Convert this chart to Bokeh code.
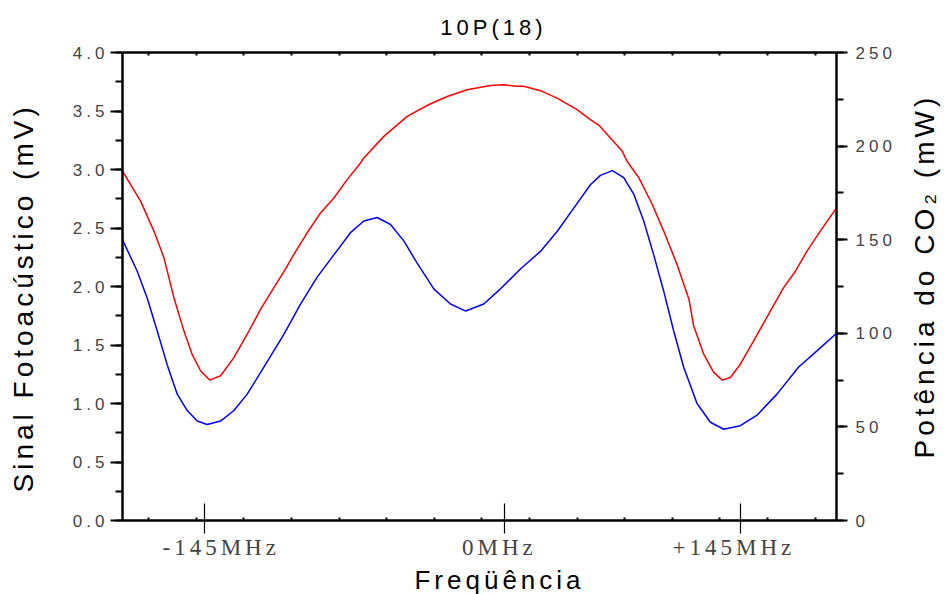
from bokeh.plotting import figure
from bokeh.layouts import row
from bokeh.models import (Range1d, LinearAxis, FixedTicker, SingleIntervalTicker,
                          NumeralTickFormatter, InlineStyleSheet, Title)
from bokeh.embed import file_html
from bokeh.resources import INLINE

# ---------------- data (scan position in arbitrary units) ----------------
power_scan = [0.00, 0.38, 0.66, 0.87, 1.08, 1.29, 1.46, 1.64, 1.83, 2.06, 2.34, 2.62,
              2.90, 3.18, 3.42, 3.60, 3.88, 4.16, 4.44, 4.72, 5.00, 5.07, 5.49, 5.98,
              6.43, 6.82, 7.24, 7.73, 8.01, 8.29, 8.43, 8.78, 9.13, 9.55, 9.83, 10.01,
              10.25, 10.50, 10.60, 10.85, 11.13, 11.37, 11.65, 11.90, 12.00, 12.21,
              12.42, 12.60, 12.77, 12.98, 13.26, 13.61, 13.89, 14.14, 14.38, 14.66, 15.00]
power_mw = [186.6, 170.6, 154.6, 140.4, 119.0, 101.3, 88.9, 80.0, 75.0, 77.3, 87.0, 99.5,
            112.8, 124.4, 134.2, 142.2, 153.7, 164.3, 172.3, 182.1, 191.0, 193.7, 205.2, 215.9,
            222.1, 226.5, 230.1, 232.4, 232.8, 232.0, 232.0, 229.6, 225.6, 219.5, 214.1, 211.1,
            204.3, 197.2, 191.9, 183.0, 168.8, 154.6, 136.8, 118.2, 103.9, 88.9,
            79.1, 75.0, 76.4, 83.5, 95.9, 111.9, 124.4, 133.3, 143.9, 154.6, 167.0]

signal_scan = [0.00, 0.31, 0.52, 0.73, 0.94, 1.15, 1.36, 1.57, 1.78, 2.06, 2.34, 2.62,
               2.97, 3.39, 3.74, 4.09, 4.44, 4.79, 5.07, 5.35, 5.63, 5.91, 6.19, 6.54,
               6.89, 7.21, 7.59, 7.94, 8.36, 8.78, 9.13, 9.48, 9.83, 10.04, 10.29, 10.53,
               10.74, 10.95, 11.16, 11.37, 11.58, 11.79, 12.07, 12.35, 12.63, 12.98,
               13.33, 13.75, 14.20, 14.59, 15.00]
signal_mv = [2.40, 2.13, 1.90, 1.62, 1.33, 1.08, 0.94, 0.85, 0.82, 0.85, 0.94, 1.08,
             1.31, 1.59, 1.85, 2.08, 2.27, 2.46, 2.56, 2.59, 2.53, 2.39, 2.20, 1.98,
             1.85, 1.79, 1.85, 1.98, 2.15, 2.30, 2.47, 2.67, 2.87, 2.95, 2.99, 2.93,
             2.79, 2.56, 2.27, 1.96, 1.62, 1.31, 1.00, 0.84, 0.78, 0.81,
             0.90, 1.08, 1.31, 1.45, 1.60]

# tick marks (scan units) and where their labels sit
freq_tick_pos = [1.72, 8.03, 12.98]
freq_label_pos = [1.78, 7.75, 12.55]
freq_tick_labels = ["-145MHz", "0MHz", "+145MHz"]
scan_minor_ticks = [0.55, 1.55, 2.55, 3.55, 4.55, 5.55, 6.55, 7.55, 8.55, 9.55,
                    10.55, 11.55, 12.55, 13.55, 14.55]

title_text = "10P(18)"
xlabel_text = "Freqüência"
ylabel_left = "Sinal Fotoacústico (mV)"
ylabel_right = "Potência do CO\u2082 (mW)"

SANS = "Liberation Sans"
SERIF = "Liberation Serif"
SPACING = InlineStyleSheet(css=":host, * { letter-spacing: 4px; }")
TOP, BOTTOM, H = 51, 74, 594


def label_strip(width, border_left, text, offset, standoff):
    """Narrow companion figure whose left-side title is a vertical axis title."""
    f = figure(width=width, height=H, output_backend="svg", toolbar_location=None,
               x_range=Range1d(0, 1), y_range=Range1d(0, 1),
               x_axis_location=None, y_axis_location=None,
               min_border_left=border_left, min_border_right=0,
               min_border_top=TOP, min_border_bottom=BOTTOM)
    f.grid.visible = False
    f.outline_line_color = None
    f.background_fill_color = "white"
    f.border_fill_color = "white"
    f.stylesheets = [SPACING]
    f.scatter([0.5], [0.5], size=0, alpha=0)
    f.add_layout(Title(text=text, align="left", offset=offset, standoff=standoff,
                       text_font=SANS, text_font_size="28px", text_font_style="normal",
                       text_color="black"), "left")
    return f


p = figure(width=856, height=H, output_backend="svg", toolbar_location=None,
           x_range=Range1d(0, 15), y_range=Range1d(0, 4),
           x_axis_location=None, y_axis_location=None,
           min_border_left=78, min_border_right=64, min_border_top=TOP, min_border_bottom=BOTTOM)
p.extra_y_ranges = {"power": Range1d(0, 250)}
p.grid.visible = False
p.outline_line_color = None
p.background_fill_color = "white"
p.border_fill_color = "white"
p.stylesheets = [SPACING]

# curves
p.line(signal_scan, signal_mv, line_color="#0000ff", line_width=1.5)
p.line(power_scan, power_mw, line_color="#ff0000", line_width=1.5, y_range_name="power")

# left axis
ya = LinearAxis(ticker=SingleIntervalTicker(interval=0.5, num_minor_ticks=2),
                formatter=NumeralTickFormatter(format="0.0"))
ya.axis_line_width = 2.5
ya.major_tick_out = 12
ya.major_tick_in = 0
ya.minor_tick_out = 7
ya.minor_tick_in = 0
ya.major_tick_line_width = 2
ya.minor_tick_line_width = 2
ya.major_label_text_font = SANS
ya.major_label_text_font_size = "17px"
ya.major_label_standoff = 14
p.add_layout(ya, "left")

# right axis
yr = LinearAxis(y_range_name="power", ticker=SingleIntervalTicker(interval=50, num_minor_ticks=2))
yr.axis_line_width = 2.5
yr.major_tick_out = 11
yr.major_tick_in = 0
yr.minor_tick_out = 7
yr.minor_tick_in = 0
yr.major_tick_line_width = 2
yr.minor_tick_line_width = 2
yr.major_label_text_font = SANS
yr.major_label_text_font_size = "17px"
yr.major_label_standoff = 8
p.add_layout(yr, "right")

# bottom axis: line + tick marks (labels carried by the next axis)
xa = LinearAxis(ticker=FixedTicker(ticks=freq_tick_pos, minor_ticks=scan_minor_ticks))
xa.axis_line_width = 2.5
xa.major_tick_in = 17
xa.major_tick_out = 13
xa.major_tick_line_width = 1.2
xa.minor_tick_in = 3
xa.minor_tick_out = 0
xa.minor_tick_line_width = 2
xa.major_label_text_color = None
xa.major_label_text_font_size = "1px"
xa.major_label_standoff = 0
p.add_layout(xa, "below")

# bottom axis: tick labels
xl = LinearAxis(ticker=FixedTicker(ticks=freq_label_pos, minor_ticks=[]),
                major_label_overrides=dict(zip(freq_label_pos, freq_tick_labels)))
xl.axis_line_color = None
xl.major_tick_in = 0
xl.major_tick_out = 0
xl.major_label_text_font = SERIF
xl.major_label_text_font_size = "23px"
xl.major_label_standoff = 1
p.add_layout(xl, "below")

# top axis (frame line with small ticks)
xt = LinearAxis(ticker=FixedTicker(ticks=[], minor_ticks=scan_minor_ticks))
xt.axis_line_width = 2.5
xt.major_tick_in = 0
xt.major_tick_out = 0
xt.minor_tick_in = 3
xt.minor_tick_out = 0
xt.minor_tick_line_width = 2
xt.major_label_text_color = None
xt.major_label_standoff = 0
p.add_layout(xt, "above")

# titles
p.title.text = title_text
p.title.align = "center"
p.title.offset = 20
p.title.standoff = 25
p.title.text_font = SANS
p.title.text_font_size = "22px"
p.title.text_font_style = "normal"
p.title.text_color = "black"

p.add_layout(Title(text=xlabel_text, align="center", offset=19, standoff=0,
                   text_font=SANS, text_font_size="26px", text_font_style="normal",
                   text_color="black"), "below")

left_strip = label_strip(44, 40, ylabel_left, 28, 4)
right_strip = label_strip(50, 39, ylabel_right, 62, 0)

layout = row(left_strip, p, right_strip)
open("out.html", "w").write(file_html(layout, INLINE))
